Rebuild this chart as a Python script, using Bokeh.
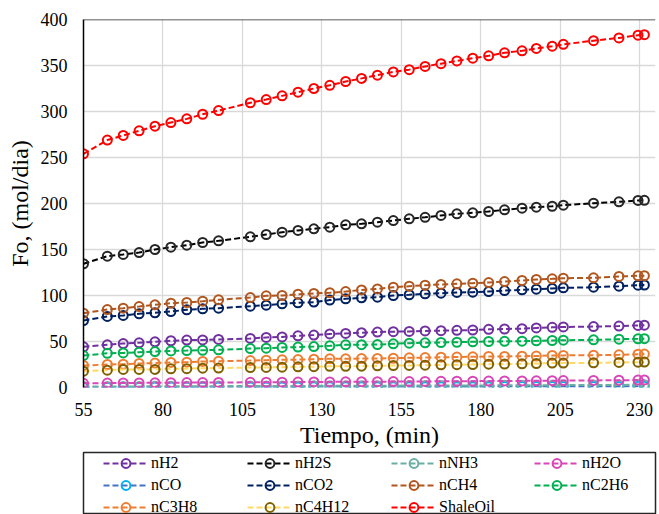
from bokeh.plotting import figure
from bokeh.models import FixedTicker, Span, Legend, LegendItem, Range1d, ColumnDataSource
from bokeh.layouts import column
from bokeh.embed import file_html
from bokeh.resources import INLINE

# ---------------- data ----------------
tiempo = [55, 62.5, 67.5, 72.5, 77.5, 82.5, 87.5, 92.5, 97.5, 107.5, 112.5, 117.5,
          122.5, 127.5, 132.5, 137.5, 142.5, 147.5, 152.5, 157.5, 162.5, 167.5,
          172.5, 177.5, 182.5, 187.5, 193, 197.5, 202.5, 206, 215.5, 223.5, 229.5, 231.5]

nH2 = [44.2, 46.4, 47.8, 48.6, 49.7, 50.8, 51.5, 51.7, 52.2, 53.3, 54.4, 55, 56.2, 57, 58.2,
       58.8, 59.6, 60.3, 60.7, 61, 61.5, 61.8, 62.1, 62.5, 63.2, 63.6, 63.9, 64.7, 65.4, 65.8,
       66.2, 66.8, 67.5, 67.7]
nH2S = [134.5, 142.7, 144.6, 146.7, 150, 152.5, 154.7, 157.6, 159.4, 163.8, 166.3, 168.8,
        170.7, 172.5, 174.3, 176.8, 177.9, 179.7, 181.5, 183.4, 185, 187, 188.8, 189.9, 191.3,
        193.1, 194.9, 196, 197, 198.2, 200.3, 201.8, 203.3, 203.5]
nNH3 = [1.0, 1.1, 1.2, 1.2, 1.3, 1.3, 1.4, 1.4, 1.5, 1.6, 1.6, 1.7, 1.7, 1.8, 1.8, 1.9, 1.9,
        2.0, 2.0, 2.1, 2.1, 2.2, 2.2, 2.3, 2.3, 2.4, 2.4, 2.5, 2.5, 2.6, 2.7, 2.8, 2.9, 3.0]
nH2O = [4.5, 4.8, 4.9, 5.0, 5.1, 5.2, 5.3, 5.4, 5.5, 5.6, 5.7, 5.8, 5.9, 6.0, 6.1, 6.2, 6.3,
        6.35, 6.4, 6.5, 6.6, 6.7, 6.8, 6.9, 7.0, 7.1, 7.2, 7.3, 7.4, 7.5, 7.7, 7.9, 8.1, 8.2]
nCO = [0.3, 0.35, 0.4, 0.4, 0.45, 0.45, 0.5, 0.5, 0.55, 0.6, 0.6, 0.65, 0.65, 0.7, 0.7, 0.75,
       0.75, 0.8, 0.8, 0.85, 0.85, 0.9, 0.9, 0.95, 0.95, 1.0, 1.0, 1.05, 1.05, 1.1, 1.15, 1.2,
       1.25, 1.3]
nCO2 = [72.8, 77.2, 78.3, 80.1, 81.2, 82.6, 84.5, 85.5, 86.2, 88.4, 89.5, 91, 92.1, 92.8, 95,
        96.4, 97.5, 98.2, 100, 100.8, 101.8, 102.5, 103.3, 103.6, 104.3, 105.4, 106.2, 106.9,
        107.6, 108.3, 109, 110.1, 111.2, 111.4]
nCH4 = [80.8, 84.7, 86.2, 88, 89.9, 91.6, 92.4, 93.8, 95.3, 97.8, 99.6, 100, 101.4, 102.2, 103,
        104.3, 106, 107.2, 109, 110.1, 111.2, 112, 112.7, 113.4, 114.1, 115.2, 116.3, 117.4,
        118.1, 118.8, 119.2, 120.7, 121.4, 121.6]
nC2H6 = [34.7, 37.2, 37.6, 38.3, 39, 39.8, 40.1, 40.5, 40.9, 42.3, 42.7, 43.5, 43.9, 44.5, 45.3,
         46.4, 46.5, 46.7, 47.5, 48.2, 48.6, 48.9, 49.2, 49.7, 50, 50.2, 50.4, 50.7, 51.1, 51.4,
         51.8, 52.5, 52.9, 53.1]
nC3H8 = [23.9, 25, 25.4, 26.1, 26.5, 27.2, 27.5, 28.3, 28.6, 29.3, 29.7, 30.1, 30.3, 30.8, 31.2,
         31.2, 31.5, 31.6, 31.8, 32.3, 32.5, 32.9, 33.1, 33.4, 33.7, 33.8, 34, 34.2, 34.8, 34.9,
         35.1, 35.5, 36.2, 36.3]
nC4H12 = [17.7, 18.8, 19.6, 19.6, 19.7, 20.3, 20.5, 21, 21.1, 21.7, 21.8, 22.1, 22.5, 22.6, 23,
          23, 23.2, 23.6, 23.9, 24, 24.3, 24.6, 24.8, 25, 25.4, 25.5, 25.7, 26.1, 26.5, 26.6,
          26.8, 27.2, 27.5, 27.6]
ShaleOil = [254, 269, 274, 279, 284, 288, 292, 297, 301, 309.5, 313, 317, 321, 325, 328.5,
            332.6, 336, 339.5, 343, 345.5, 349, 352, 355, 358, 360.5, 363.8, 366, 368.5, 371,
            373, 377, 380, 383, 383.5]

x_ticks = [55, 80, 105, 130, 155, 180, 205, 230]
y_ticks = [0, 50, 100, 150, 200, 250, 300, 350, 400]

# name, values, line colour, marker colour
series = [
    ("nCO", nCO, "#4472C4", "#00B0F0"),
    ("nH2", nH2, "#7030A0", "#7030A0"),
    ("nH2S", nH2S, "#000000", "#262626"),
    ("nNH3", nNH3, "#6AAFA6", "#6AAFA6"),
    ("nH2O", nH2O, "#D846B8", "#D846B8"),
    ("nCO2", nCO2, "#002060", "#002060"),
    ("nCH4", nCH4, "#B0561E", "#B0561E"),
    ("nC2H6", nC2H6, "#00B050", "#00B050"),
    ("nC3H8", nC3H8, "#ED7D31", "#ED7D31"),
    ("nC4H12", nC4H12, "#FFD966", "#7F6000"),
    ("ShaleOil", ShaleOil, "#FF0000", "#FF0000"),
]
legend_cols = [["nH2", "nCO", "nC3H8"], ["nH2S", "nCO2", "nC4H12"],
               ["nNH3", "nCH4", "ShaleOil"], ["nH2O", "nC2H6"]]

FONT = "Liberation Serif"

# ---------------- main figure ----------------
p = figure(width=659, height=451, x_range=Range1d(55, 235), y_range=Range1d(0, 400),
           output_backend="svg", toolbar_location=None,
           min_border_left=83, min_border_right=0, min_border_top=19, min_border_bottom=64)
p.outline_line_color = None
p.background_fill_color = "white"

p.xaxis.ticker = FixedTicker(ticks=x_ticks)
p.yaxis.ticker = FixedTicker(ticks=y_ticks)
p.xgrid.ticker = FixedTicker(ticks=x_ticks)
p.ygrid.ticker = FixedTicker(ticks=y_ticks)
for g in (p.xgrid, p.ygrid):
    g.grid_line_color = "#D9D9D9"
    g.grid_line_width = 1.3

for ax in (p.xaxis, p.yaxis):
    ax.major_tick_line_color = None
    ax.minor_tick_line_color = None
    ax.major_tick_out = 0
    ax.major_tick_in = 0
    ax.major_label_text_font = FONT
    ax.major_label_text_font_size = "18px"
    ax.major_label_text_color = "#000000"
    ax.axis_label_text_font = FONT
    ax.axis_label_text_font_style = "normal"
    ax.axis_label_text_color = "#000000"
    ax.axis_label_text_font_size = "24px"

p.xaxis.axis_line_color = None
p.xaxis.major_label_standoff = 15
p.xaxis.axis_label = "Tiempo, (min)"
p.xaxis.axis_label_standoff = 3

p.yaxis.axis_line_color = "black"
p.yaxis.axis_line_width = 1.5
p.yaxis.major_label_standoff = 16
p.yaxis.axis_label = "Fo, (mol/dia)"
p.yaxis.axis_label_standoff = 5

p.add_layout(Span(location=400, dimension="width", line_color="#262626", line_width=1.5))

# ---------------- legend figure ----------------
lf = figure(width=659, height=63, x_range=Range1d(1000, 1001), y_range=Range1d(1000, 1001),
            x_axis_type=None, y_axis_type=None, output_backend="svg", toolbar_location=None,
            min_border_left=82, min_border_right=4, min_border_top=1, min_border_bottom=0)
lf.outline_line_color = "#262626"
lf.outline_line_width = 1.5

line_r = {}
scat_r = {}
for name, vals, lc, mc in series:
    src = ColumnDataSource(dict(x=tiempo, y=vals))
    p.line("x", "y", source=src, line_color=lc, line_width=2, line_dash="6 3")
    p.scatter("x", "y", source=src, size=9, marker="circle", line_color=mc,
              line_width=2, fill_color=None)
    src2 = ColumnDataSource(dict(x=tiempo, y=vals))
    line_r[name] = lf.line("x", "y", source=src2, line_color=lc, line_width=2, line_dash="6 3")
    scat_r[name] = lf.scatter("x", "y", source=src2, size=9, marker="circle", line_color=mc,
                              line_width=2, fill_color=None)

ROW_H = 22
col_x = [20, 164, 308, 451]
for names, x0 in zip(legend_cols, col_x):
    items = [LegendItem(label=n, renderers=[line_r[n], scat_r[n]]) for n in names]
    leg = Legend(items=items, location=(x0, 62 - ROW_H * len(names)), orientation="vertical",
                 padding=0, margin=0, spacing=0, glyph_width=45, glyph_height=ROW_H,
                 label_standoff=3, border_line_color=None, background_fill_alpha=0,
                 label_text_font=FONT, label_text_font_size="16px",
                 label_text_color="#000000")
    lf.add_layout(leg)

layout = column(p, lf, spacing=0)
open("out.html", "w").write(file_html(layout, INLINE))
